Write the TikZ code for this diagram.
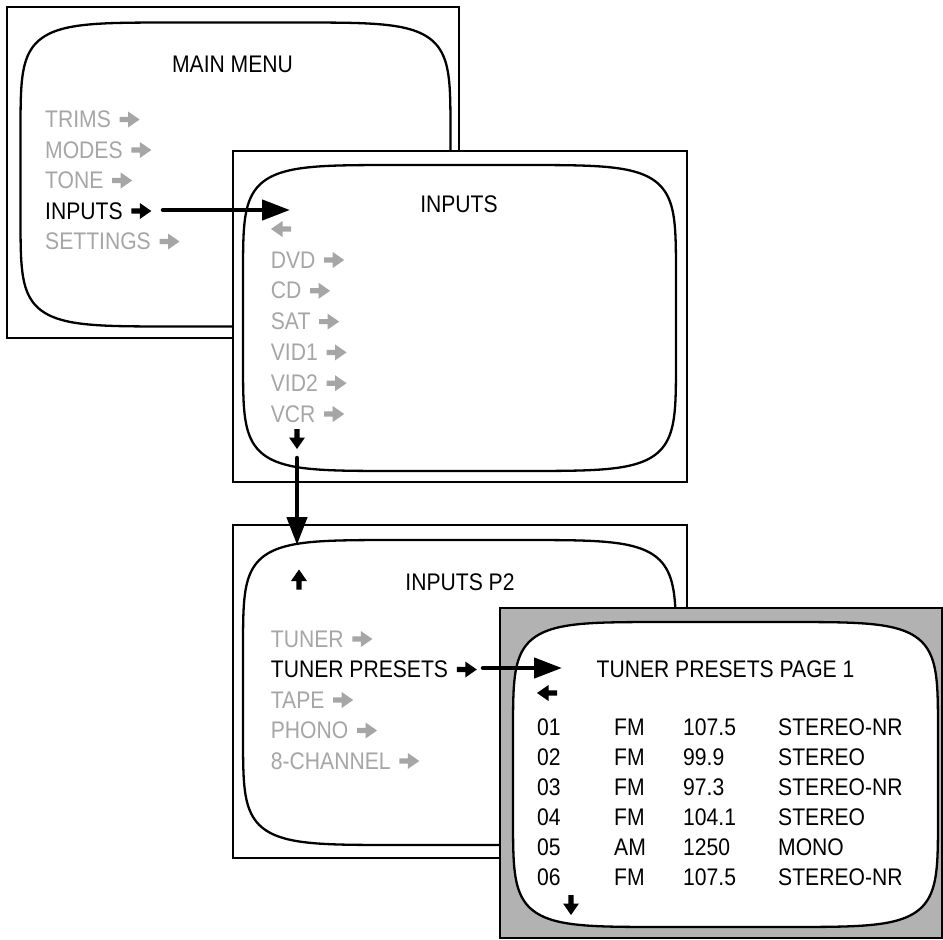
\documentclass[tikz,border=0pt]{standalone}
\usepackage{fontspec}
\setmainfont{Liberation Sans}[FakeStretch=0.88]
\usetikzlibrary{arrows.meta,calc}
\definecolor{itemgray}{HTML}{A6A6A6}
\definecolor{panelgray}{HTML}{B2B2B2}
\newcommand\sqe{0.3077}
\newcommand\tvscreen[5][]{%
  \path[#1]
    plot[domain=0.01:89.99,samples=90,variable=\t] ({#2+#4*pow(cos(\t),\sqe)},{#3-#5*pow(sin(\t),\sqe)})
 -- plot[domain=0.01:89.99,samples=90,variable=\t] ({#2-#4*pow(sin(\t),\sqe)},{#3-#5*pow(cos(\t),\sqe)})
 -- plot[domain=0.01:89.99,samples=90,variable=\t] ({#2-#4*pow(cos(\t),\sqe)},{#3+#5*pow(sin(\t),\sqe)})
 -- plot[domain=0.01:89.99,samples=90,variable=\t] ({#2+#4*pow(sin(\t),\sqe)},{#3+#5*pow(cos(\t),\sqe)})
 -- cycle;}
\newcommand\itemarrow[2]{\pic at ($(#1.base east)+(18.5,-8)$) {blockarrow=#2};}
\tikzset{
  blockarrow/.pic={\fill[#1] (-10,-2.6) -- (-1.5,-2.6) -- (-1.5,-8) -- (10,0) -- (-1.5,8) -- (-1.5,2.6) -- (-10,2.6) -- cycle;},
  item/.style={anchor=base west, text=itemgray},
  sel/.style={anchor=base west, text=black},
  title/.style={anchor=base, text=black},
  panel/.style={draw=black, line width=2pt, fill=white},
  screen/.style={draw=black, line width=2.3pt, fill=white},
  bigarrow/.style={line width=4.5pt, line cap=round, -{Triangle[length=28pt,width=20pt]}}
}
\begin{document}
\begin{tikzpicture}[x=1pt,y=-1pt,font=\fontsize{24}{28}\selectfont,every node/.style={inner sep=0pt}]
\useasboundingbox (0,0) rectangle (943,940);

% ---------- Panel 1: MAIN MENU
\draw[panel] (7,7) rectangle (459,338);
\tvscreen[screen]{235.5}{174.5}{215}{152}
\node[title] (mainmenu) at (232.5,72) {MAIN MENU};
\node[item] (trims) at (45,127.5) {TRIMS}; \itemarrow{trims}{itemgray}
\node[item] (modes) at (45,158) {MODES}; \itemarrow{modes}{itemgray}
\node[item] (tone) at (45,188.5) {TONE}; \itemarrow{tone}{itemgray}
\node[sel] (inputs) at (45,219) {INPUTS}; \itemarrow{inputs}{black}
\node[item] (settings) at (45,249.5) {SETTINGS}; \itemarrow{settings}{itemgray}

% ---------- Panel 2: INPUTS
\draw[panel] (233,151) rectangle (687,482);
\tvscreen[screen]{459.5}{318}{216.5}{153}
\node[title] (inputstitle) at (459,212) {INPUTS};
\pic[rotate=180] at (281,229) {blockarrow=itemgray};
\node[item] (dvd) at (270.7,268) {DVD}; \itemarrow{dvd}{itemgray}
\node[item] (cd) at (270.7,298.8) {CD}; \itemarrow{cd}{itemgray}
\node[item] (sat) at (270.7,329.6) {SAT}; \itemarrow{sat}{itemgray}
\node[item] (vidone) at (270.7,360.4) {VID1}; \itemarrow{vidone}{itemgray}
\node[item] (vidtwo) at (270.7,391.2) {VID2}; \itemarrow{vidtwo}{itemgray}
\node[item] (vcr) at (270.7,422) {VCR}; \itemarrow{vcr}{itemgray}
\pic[rotate=-90] at (297,439) {blockarrow=black};

\coordinate (aones) at (163,210);
\coordinate (aonee) at (290,210);
\draw[bigarrow] (aones) -- (aonee);

% ---------- Panel 3: INPUTS P2
\draw[panel] (233,525) rectangle (687,858);
\tvscreen[screen]{459.5}{692.5}{216.5}{152.5}
\node[title] (inputsptwo) at (460,590) {INPUTS P2};
\pic[rotate=90] at (299,579.5) {blockarrow=black};
\node[item] (tuner) at (270.7,647) {TUNER}; \itemarrow{tuner}{itemgray}
\node[sel] (tunerpresets) at (270.7,677.5) {TUNER PRESETS}; \itemarrow{tunerpresets}{black}
\node[item] (tape) at (270.7,708) {TAPE}; \itemarrow{tape}{itemgray}
\node[item] (phono) at (270.7,738.5) {PHONO}; \itemarrow{phono}{itemgray}
\node[item] (eightch) at (270.7,769) {8-CHANNEL}; \itemarrow{eightch}{itemgray}

\coordinate (atwos) at (297,458);
\coordinate (atwoe) at (297,545);
\draw[bigarrow] (atwos) -- (atwoe);

% ---------- Panel 4: TUNER PRESETS PAGE 1
\draw[panel, fill=panelgray] (500,608) rectangle (942,938);
\tvscreen[screen]{725.5}{774.5}{212.5}{152.5}
\node[title] (presetstitle) at (725.5,677) {TUNER PRESETS PAGE 1};
\pic[rotate=180] at (547,693) {blockarrow=black};
\foreach \pa/\pb/\pc/\pd [count=\i] in {01/FM/107.5/STEREO-NR,02/FM/99.9/STEREO,03/FM/97.3/STEREO-NR,04/FM/104.1/STEREO,05/AM/1250/MONO,06/FM/107.5/STEREO-NR}{
  \node[sel] (num\i) at (537,705+30*\i) {\pa};
  \node[sel] (band\i) at (614,705+30*\i) {\pb};
  \node[sel] (freq\i) at (683,705+30*\i) {\pc};
  \node[sel] (mode\i) at (778,705+30*\i) {\pd};
}
\pic[rotate=-90] at (571,905) {blockarrow=black};

\coordinate (athrees) at (483,668);
\coordinate (athreee) at (562,668);
\draw[bigarrow] (athrees) -- (athreee);
\end{tikzpicture}
\end{document}
